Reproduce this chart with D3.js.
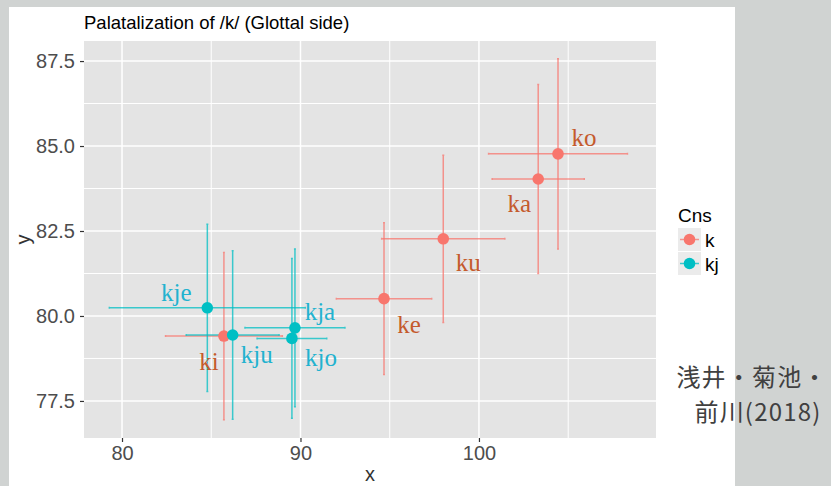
<!DOCTYPE html>
<html>
<head>
<meta charset="utf-8">
<script src="https://cdn.jsdelivr.net/npm/d3@7"></script>
<style>
  html, body { margin: 0; padding: 0; background: #d0d3d2; }
  svg { display: block; }
</style>
</head>
<body>
<svg id="chart" width="831" height="486"></svg>
<script>
// Syllables, consonant group, means and standard deviations
const syllables = ["ka", "ki", "ku", "ke", "ko", "kja", "kju", "kjo", "kje"];
const groups    = ["k", "k", "k", "k", "k", "kj", "kj", "kj", "kj"];
const xMean     = [103.32, 85.71, 98.00, 94.68, 104.43, 89.69, 86.20, 89.52, 84.78];
const yMean     = [84.03, 79.41, 82.27, 80.51, 84.77, 79.65, 79.44, 79.34, 80.24];
const xSD       = [2.58, 3.27, 3.45, 2.67, 3.89, 2.80, 2.60, 1.95, 5.49];
const ySD       = [2.78, 2.46, 2.46, 2.23, 2.80, 2.32, 2.48, 2.35, 2.46];

// Label placement relative to each point (pixels)
const labelDX = [-19, -15, 25, 25, 26, 25, 24, 29, -31];
const labelDY = [33, 34, 32, 34, -8, -8, 28, 28, -7];

const legendGroups = ["k", "kj"];
const xTicks = [80, 90, 100];
const xMinor = [85, 95, 105];
const yTicks = [77.5, 80.0, 82.5, 85.0, 87.5];
const yMinor = [78.75, 81.25, 83.75, 86.25];
const xDomain = [77.87, 109.92];
const yDomain = [76.41, 88.09];

const data = syllables.map((s, i) => ({
  s, g: groups[i], x: xMean[i], y: yMean[i], sx: xSD[i], sy: ySD[i],
  dx: labelDX[i], dy: labelDY[i]
}));

const svg = d3.select("#chart");

// white card behind the plot
svg.append("rect").attr("x", 9).attr("y", 7).attr("width", 726).attr("height", 479).attr("fill", "#ffffff");

const panel = { left: 84, right: 656, top: 41, bottom: 438 };
const x = d3.scaleLinear().domain(xDomain).range([panel.left, panel.right]);
const y = d3.scaleLinear().domain(yDomain).range([panel.bottom, panel.top]);

const pointColor = d3.scaleOrdinal().domain(legendGroups).range(["#F8766D", "#00BFC4"]);
const labelColor = d3.scaleOrdinal().domain(legendGroups).range(["#c45a2c", "#22b2cf"]);

// panel background and grid
svg.append("rect")
  .attr("x", panel.left).attr("y", panel.top)
  .attr("width", panel.right - panel.left).attr("height", panel.bottom - panel.top)
  .attr("fill", "#e4e4e4");

const grid = svg.append("g");
grid.selectAll(".xmin").data(xMinor).join("line")
  .attr("x1", d => x(d)).attr("x2", d => x(d)).attr("y1", panel.top).attr("y2", panel.bottom)
  .attr("stroke", "#fff").attr("stroke-width", 1);
grid.selectAll(".ymin").data(yMinor).join("line")
  .attr("y1", d => y(d)).attr("y2", d => y(d)).attr("x1", panel.left).attr("x2", panel.right)
  .attr("stroke", "#fff").attr("stroke-width", 1);
grid.selectAll(".xmaj").data(xTicks).join("line")
  .attr("x1", d => x(d)).attr("x2", d => x(d)).attr("y1", panel.top).attr("y2", panel.bottom)
  .attr("stroke", "#fff").attr("stroke-width", 1.5);
grid.selectAll(".ymaj").data(yTicks).join("line")
  .attr("y1", d => y(d)).attr("y2", d => y(d)).attr("x1", panel.left).attr("x2", panel.right)
  .attr("stroke", "#fff").attr("stroke-width", 1.5);

// axes
const xAxis = svg.append("g").attr("transform", `translate(0,${panel.bottom})`)
  .call(d3.axisBottom(x).tickValues(xTicks).tickSize(4).tickPadding(4).tickFormat(d3.format("d")));
const yAxis = svg.append("g").attr("transform", `translate(${panel.left},0)`)
  .call(d3.axisLeft(y).tickValues(yTicks).tickSize(4).tickPadding(5).tickFormat(d3.format(".1f")));
[xAxis, yAxis].forEach(a => {
  a.select(".domain").remove();
  a.selectAll(".tick line").attr("stroke", "#333").attr("stroke-width", 1.2);
  a.selectAll(".tick text").attr("fill", "#4d4d4d")
    .style("font-family", "'Liberation Sans', Arial, sans-serif").style("font-size", "20px");
});

// error bars (vertical then horizontal), caps are tiny
const cap = 1;
const bars = svg.append("g").attr("stroke-width", 1.5).attr("fill", "none").attr("stroke-opacity", 0.75);
data.forEach(d => {
  const c = pointColor(d.g);
  const g = bars.append("g").attr("stroke", c);
  const cx = x(d.x), cy = y(d.y);
  const yt = y(d.y + d.sy), yb = y(d.y - d.sy);
  const xl = x(d.x - d.sx), xr = x(d.x + d.sx);
  g.append("path").attr("d",
    `M${cx},${yt}V${yb}M${cx - cap},${yt}H${cx + cap}M${cx - cap},${yb}H${cx + cap}` +
    `M${xl},${cy}H${xr}M${xl},${cy - cap}V${cy + cap}M${xr},${cy - cap}V${cy + cap}`);
});

// points
svg.append("g").selectAll("circle").data(data).join("circle")
  .attr("cx", d => x(d.x)).attr("cy", d => y(d.y)).attr("r", 5.8)
  .attr("fill", d => pointColor(d.g));

// syllable labels
svg.append("g").selectAll("text").data(data).join("text")
  .attr("x", d => x(d.x) + d.dx).attr("y", d => y(d.y) + d.dy)
  .attr("text-anchor", "middle")
  .attr("fill", d => labelColor(d.g))
  .style("font-family", "'Liberation Serif', 'Times New Roman', serif")
  .style("font-size", "25px")
  .text(d => d.s);

// title and axis titles
svg.append("text").attr("x", 84).attr("y", 29)
  .style("font-family", "'Liberation Sans', Arial, sans-serif").style("font-size", "18.5px")
  .attr("fill", "#000").text("Palatalization of /k/ (Glottal side)");
svg.append("text").attr("x", (panel.left + panel.right) / 2).attr("y", 481)
  .attr("text-anchor", "middle").attr("fill", "#333")
  .style("font-family", "'Liberation Sans', Arial, sans-serif").style("font-size", "20px").text("x");
svg.append("text").attr("transform", `translate(30,${(panel.top + panel.bottom) / 2}) rotate(-90)`)
  .attr("text-anchor", "middle").attr("fill", "#333")
  .style("font-family", "'Liberation Sans', Arial, sans-serif").style("font-size", "20px").text("y");

// legend
const legend = svg.append("g").attr("transform", "translate(678,0)");
legend.append("text").attr("x", 0).attr("y", 222)
  .style("font-family", "'Liberation Sans', Arial, sans-serif").style("font-size", "19px").text("Cns");
const keys = legend.selectAll(".key").data(legendGroups).join("g")
  .attr("transform", (d, i) => `translate(0,${228 + i * 24})`);
keys.append("rect").attr("width", 23).attr("height", 23).attr("fill", "#ebebeb");
keys.append("line").attr("x1", 2).attr("x2", 21).attr("y1", 11.5).attr("y2", 11.5)
  .attr("stroke", d => pointColor(d)).attr("stroke-width", 1.5).attr("stroke-opacity", 0.75);
keys.append("circle").attr("cx", 11.5).attr("cy", 11.5).attr("r", 5.8).attr("fill", d => pointColor(d));
keys.append("text").attr("x", 27).attr("y", 19)
  .style("font-family", "'Liberation Sans', Arial, sans-serif").style("font-size", "19px")
  .text(d => d);

// citation, two lines
const citeLines = ["浅井・菊池・", "前川(2018)"];
svg.append("g").selectAll("text").data(citeLines).join("text")
  .attr("x", (d, i) => i === 0 ? 752 : 758)
  .attr("y", (d, i) => 386 + i * 35)
  .attr("text-anchor", "middle").attr("fill", "#404040")
  .style("font-family", "'Noto Sans CJK JP', sans-serif").style("font-size", "24px")
  .style("letter-spacing", "1.2px")
  .text(d => d);
</script>
</body>
</html>
